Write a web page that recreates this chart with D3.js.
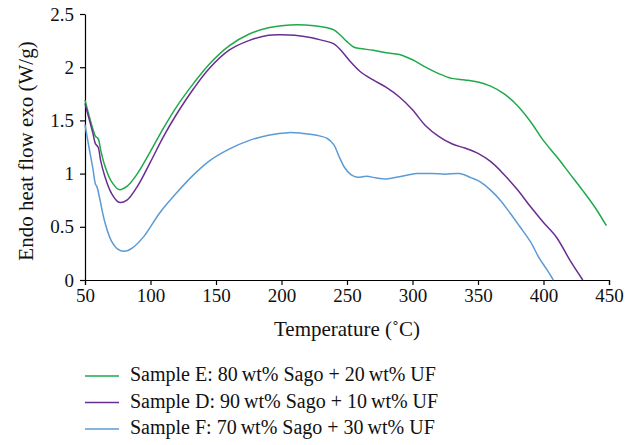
<!DOCTYPE html>
<html>
<head>
<meta charset="utf-8">
<script src="https://cdn.jsdelivr.net/npm/d3@7"></script>
<style>
  body { margin: 0; background: #fff; }
  svg { display: block; font-family: "Liberation Serif", "DejaVu Serif", serif; }
</style>
</head>
<body>
<div id="chart"></div>
<script>
// temperatures (°C) and heat flow (W/g)
const tempE = [50, 53, 56, 58, 60, 62, 65, 70, 76, 82, 90, 100, 110, 120, 133, 145, 160, 175, 190, 200, 212, 225, 235, 240, 245, 250, 255, 260, 270, 280, 290, 300, 310, 320, 330, 340, 350, 360, 370, 380, 390, 400, 410, 420, 430, 440, 448];
const flowE = [1.69, 1.55, 1.42, 1.35, 1.33, 1.22, 1.08, 0.93, 0.85, 0.88, 1.0, 1.21, 1.43, 1.63, 1.85, 2.03, 2.2, 2.31, 2.37, 2.39, 2.4, 2.39, 2.37, 2.35, 2.3, 2.24, 2.19, 2.175, 2.16, 2.135, 2.12, 2.07, 2.0, 1.94, 1.895, 1.88, 1.86, 1.82, 1.75, 1.64, 1.49, 1.31, 1.16, 1.0, 0.84, 0.67, 0.51];

const tempD = [50, 53, 56, 58, 60, 62, 65, 70, 76, 82, 90, 100, 110, 120, 133, 145, 160, 175, 190, 200, 210, 222, 232, 240, 246, 252, 260, 270, 280, 290, 300, 310, 320, 330, 340, 350, 360, 370, 380, 390, 400, 410, 420, 430];
const flowD = [1.66, 1.52, 1.38, 1.28, 1.25, 1.12, 0.98, 0.82, 0.73, 0.75, 0.88, 1.11, 1.35, 1.56, 1.8, 1.99, 2.16, 2.25, 2.3, 2.305, 2.3, 2.28, 2.25, 2.22, 2.15, 2.06, 1.96, 1.88, 1.81, 1.72, 1.6, 1.45, 1.35, 1.28, 1.24, 1.19, 1.11, 0.99, 0.85, 0.69, 0.54, 0.4, 0.19, 0];

const tempF = [50, 53, 56, 58, 59, 61, 65, 70, 75, 80, 86, 95, 107, 120, 133, 145, 160, 175, 190, 205, 215, 227, 235, 240, 244, 248, 253, 258, 265, 272, 280, 290, 303, 315, 325, 336, 345, 352, 360, 367, 375, 382, 390, 397, 403, 407.5];
const flowF = [1.46, 1.25, 1.05, 0.9, 0.88, 0.78, 0.55, 0.37, 0.29, 0.27, 0.3, 0.41, 0.63, 0.82, 0.99, 1.12, 1.23, 1.31, 1.36, 1.385, 1.38, 1.36, 1.33, 1.27, 1.16, 1.06, 0.99, 0.965, 0.975, 0.96, 0.95, 0.97, 1.0, 1.0, 0.995, 1.0, 0.96, 0.92, 0.84, 0.75, 0.62, 0.5, 0.36, 0.2, 0.09, 0];

const seriesNames = [
    "Sample E: 80\u2009wt% Sago + 20\u2009wt% UF",
    "Sample D: 90\u2009wt% Sago + 10\u2009wt% UF",
    "Sample F: 70\u2009wt% Sago + 30\u2009wt% UF"
];
const seriesColors = ["#1fa94a", "#6a2e92", "#5b9bd5"];

const xTicks = [50, 100, 150, 200, 250, 300, 350, 400, 450];
const yTicks = [0, 0.5, 1, 1.5, 2, 2.5];

const series = [
    { name: seriesNames[0], color: seriesColors[0], pts: tempE.map((t, i) => [t, flowE[i]]) },
    { name: seriesNames[1], color: seriesColors[1], pts: tempD.map((t, i) => [t, flowD[i]]) },
    { name: seriesNames[2], color: seriesColors[2], pts: tempF.map((t, i) => [t, flowF[i]]) },
];

const width = 636;
const height = 445;
const margin = { top: 14, right: 27, bottom: 165, left: 85 };

const xScale = d3.scaleLinear()
    .domain([50, 450])
    .range([margin.left, width - margin.right]);

const yScale = d3.scaleLinear()
    .domain([0, 2.5])
    .range([height - margin.bottom, margin.top]);

const svg = d3.select("#chart")
    .append("svg")
    .attr("width", width)
    .attr("height", height);

// X axis
const xAxis = svg.append("g")
    .attr("transform", `translate(0, ${yScale(0)})`)
    .call(d3.axisBottom(xScale).tickValues(xTicks).tickSize(5).tickSizeOuter(5).tickPadding(4));
xAxis.selectAll("text").attr("font-size", 19).attr("font-family", "Liberation Serif").attr("fill", "#111");

// Y axis
const yAxis = svg.append("g")
    .attr("transform", `translate(${xScale(50)}, 0)`)
    .call(d3.axisLeft(yScale).tickValues(yTicks).tickSize(5).tickSizeOuter(0).tickPadding(6)
        .tickFormat((d) => String(d)));
yAxis.selectAll("text").attr("font-size", 19).attr("font-family", "Liberation Serif").attr("fill", "#111");

svg.selectAll(".domain, .tick line").attr("stroke", "#000").attr("stroke-width", 1.2);

// lines
const line = d3.line()
    .x((d) => xScale(d[0]))
    .y((d) => yScale(d[1]))
    .curve(d3.curveCatmullRom.alpha(0.5));

svg.append("g")
    .selectAll("path")
    .data(series)
    .join("path")
    .attr("d", (d) => line(d.pts))
    .attr("fill", "none")
    .attr("stroke", (d) => d.color)
    .attr("stroke-width", 1.5);

// axis titles
svg.append("text")
    .attr("x", (xScale(50) + xScale(450)) / 2)
    .attr("y", 336)
    .attr("text-anchor", "middle")
    .attr("font-size", 21)
    .attr("fill", "#111")
    .text("Temperature (\u02DAC)");

svg.append("text")
    .attr("transform", `translate(33, ${(yScale(0) + yScale(2.5)) / 2 + 4}) rotate(-90)`)
    .attr("text-anchor", "middle")
    .attr("font-size", 21)
    .attr("fill", "#111")
    .text("Endo heat flow exo (W/g)");

// legend
const legend = svg.append("g")
    .selectAll("g")
    .data(series)
    .join("g")
    .attr("transform", (d, i) => `translate(85, ${376 + i * 26.5})`);

legend.append("line")
    .attr("x1", 0).attr("x2", 34)
    .attr("stroke", (d) => d.color)
    .attr("stroke-width", 1.5);

legend.append("text")
    .attr("x", 45)
    .attr("y", 5)
    .attr("font-size", 20)
    .attr("fill", "#111")
    .text((d) => d.name);
</script>
</body>
</html>
